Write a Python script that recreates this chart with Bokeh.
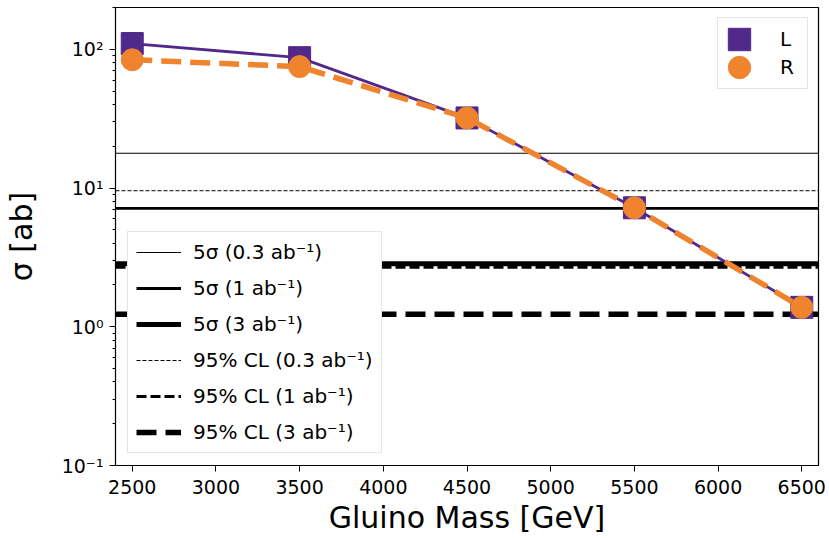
from bokeh.plotting import figure
from bokeh.models import (FixedTicker, CustomJSTickFormatter, Legend, LegendItem)
from bokeh.embed import file_html
from bokeh.resources import INLINE

# ---------------- data ----------------
mass = [2500, 3500, 4500, 5500, 6500]
sigma_L = [110, 87, 32, 7.2, 1.38]
sigma_R = [84, 75, 32, 7.2, 1.38]

limit_labels = ["5σ (0.3 ab⁻¹)", "5σ (1 ab⁻¹)", "5σ (3 ab⁻¹)",
                "95% CL (0.3 ab⁻¹)", "95% CL (1 ab⁻¹)", "95% CL (3 ab⁻¹)"]
limit_values = [17.8, 7.14, 2.84, 9.56, 2.68, 1.23]

x_ticks = [2500, 3000, 3500, 4000, 4500, 5000, 5500, 6000, 6500]
y_major = [0.1, 1, 10, 100]
x_lo, x_hi = 2400, 6600
y_lo, y_hi = 0.1, 200

# ---------------- styles ----------------
limit_widths = [1.1, 2.8, 5, 1.0, 2.8, 5.5]
limit_dashes = ["solid", "solid", "solid", "4 2", "10 4", "20 9"]
PURPLE = "#51298a"
ORANGE = "#f0832e"
FONT = "DejaVu Sans"

p = figure(width=829, height=538, x_range=(x_lo, x_hi), y_range=(y_lo, y_hi),
           y_axis_type="log", output_backend="svg", toolbar_location=None,
           min_border_left=113, min_border_right=11, min_border_top=7,
           min_border_bottom=73)
p.background_fill_color = "white"
p.border_fill_color = "white"
p.outline_line_color = "black"
p.outline_line_width = 1.2
p.grid.visible = False

# limit lines
lim_renderers = []
for lab, v, w, d in zip(limit_labels, limit_values, limit_widths, limit_dashes):
    r = p.line(x=[x_lo, x_hi], y=[v, v], line_color="black", line_width=w, line_dash=d)
    lim_renderers.append(r)

# data
p.line(mass, sigma_L, line_color=PURPLE, line_width=2.8)
rL = p.rect(x=mass, y=sigma_L, width=22, height=22, width_units="screen",
            height_units="screen", fill_color=PURPLE, line_color=PURPLE)
p.line(mass, sigma_R, line_color=ORANGE, line_width=5.5, line_dash="20 9")
rR = p.ellipse(x=mass, y=sigma_R, width=22, height=22, width_units="screen",
               height_units="screen", fill_color=ORANGE, line_color=ORANGE)

# axes
p.xaxis.ticker = FixedTicker(ticks=x_ticks)
minor = [m * 10.0 ** e for e in range(-1, 3) for m in range(2, 10)]
p.yaxis.ticker = FixedTicker(ticks=y_major, minor_ticks=minor)
p.yaxis.formatter = CustomJSTickFormatter(code="""
const e = Math.round(Math.log10(tick));
const sup = {"-":"\u207b","0":"\u2070","1":"\u00b9","2":"\u00b2","3":"\u00b3","4":"\u2074","5":"\u2075","6":"\u2076","7":"\u2077","8":"\u2078","9":"\u2079"};
return "10" + String(e).split("").map(c => sup[c]).join("");
""")
for ax in (p.xaxis[0], p.yaxis[0]):
    ax.major_label_text_font = FONT
    ax.major_label_text_font_size = "19px"
    ax.major_label_text_color = "black"
    ax.axis_label_text_font = FONT
    ax.axis_label_text_font_size = "30px"
    ax.axis_label_text_font_style = "normal"
    ax.axis_label_text_color = "black"
    ax.major_tick_out = 6
    ax.major_tick_in = 0
    ax.minor_tick_out = 3
    ax.minor_tick_in = 0
    ax.axis_line_color = "black"
    ax.major_tick_line_color = "black"
    ax.minor_tick_line_color = "black"
    ax.major_label_standoff = 6
p.xaxis.minor_tick_line_color = None
p.xaxis.axis_label = "Gluino Mass [GeV]"
p.yaxis.axis_label = "σ [ab]"
p.xaxis.major_label_standoff = 8
p.xaxis.axis_label_standoff = 3
p.yaxis.axis_label_standoff = 20

# legends
leg1 = Legend(items=[LegendItem(label=l, renderers=[r]) for l, r in zip(limit_labels, lim_renderers)],
              location="bottom_left", margin=12, padding=8, spacing=12,
              glyph_width=45, glyph_height=22, label_height=22, label_standoff=12,
              label_text_font=FONT, label_text_font_size="20px", label_text_color="black",
              background_fill_color="white", background_fill_alpha=1.0,
              border_line_color="#cccccc", border_line_width=1.5)
leg2 = Legend(items=[LegendItem(label="L", renderers=[rL]), LegendItem(label="R", renderers=[rR])],
              location="top_right", margin=10, padding=7, spacing=0,
              glyph_width=28, glyph_height=28, label_height=28, label_standoff=27,
              label_text_font=FONT, label_text_font_size="20px", label_text_color="black",
              background_fill_color="white", background_fill_alpha=1.0,
              border_line_color="#cccccc", border_line_width=1.5)
p.add_layout(leg1, "center")
p.add_layout(leg2, "center")

open("out.html", "w", encoding="utf-8").write(file_html(p, INLINE))
